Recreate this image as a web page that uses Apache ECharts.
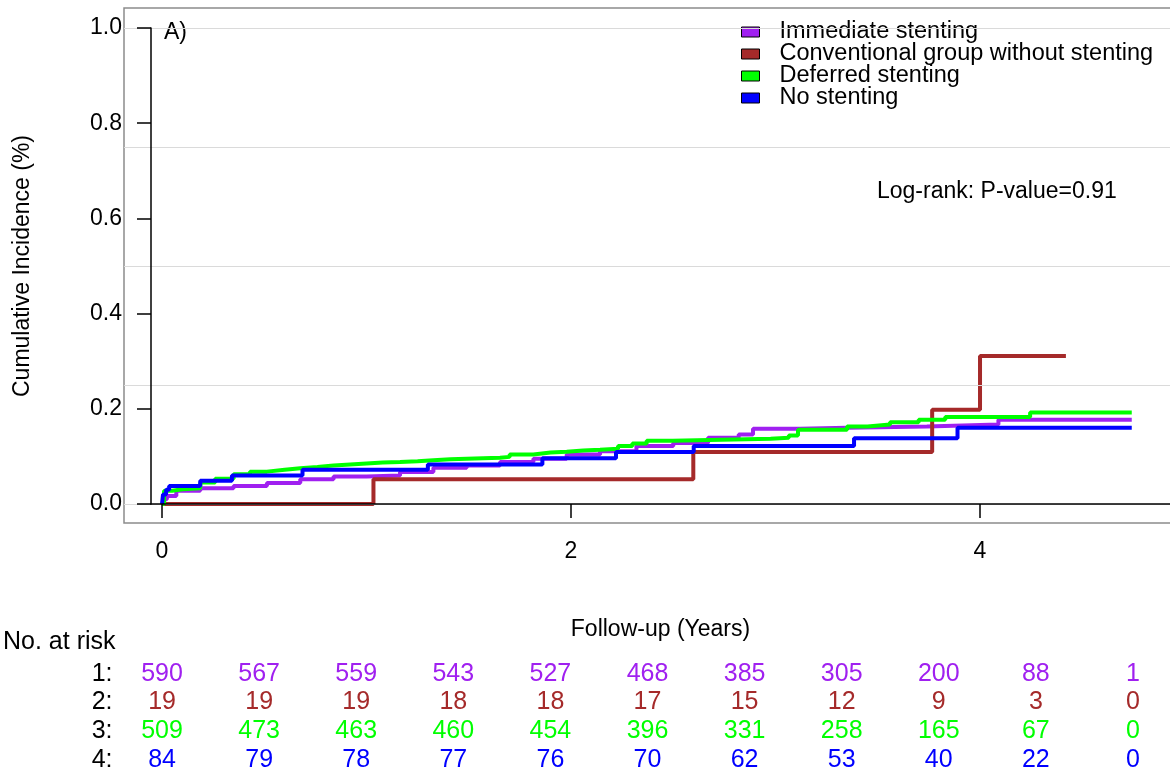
<!DOCTYPE html>
<html>
<head>
<meta charset="utf-8">
<script src="https://cdn.jsdelivr.net/npm/echarts@6/dist/echarts.min.js"></script>
<style>
  html, body { margin: 0; padding: 0; background: #fff; }
  #main { width: 1170px; height: 771px; }
</style>
</head>
<body>
<div id="main"></div>
<script>
// group names and colours
const groupNames = ['Immediate stenting', 'Conventional group without stenting', 'Deferred stenting', 'No stenting'];
const groupColors = ['#a020f0', '#a52a2a', '#00ff00', '#0000ff'];

// cumulative incidence step points (years, proportion)
const timeImmediate = [0, 0.01, 0.024, 0.07, 0.187, 0.35, 0.513, 0.676, 0.839, 1.0, 1.164, 1.327, 1.49, 1.653, 1.816, 1.979, 2.142, 2.32, 2.5, 2.67, 2.82, 2.89, 3.12, 3.35, 3.74, 4.09, 4.742];
const incImmediate = [0, 0.01, 0.017, 0.028, 0.033, 0.038, 0.044, 0.052, 0.058, 0.06, 0.067, 0.076, 0.081, 0.088, 0.095, 0.104, 0.111, 0.122, 0.128, 0.139, 0.146, 0.158, 0.16, 0.163, 0.167, 0.177, 0.177];

const timeConventional = [0, 1.034, 2.598, 3.766, 4.0, 4.42];
const incConventional = [0, 0.052, 0.109, 0.198, 0.311, 0.311];

const timeDeferred = [0, 0.01, 0.05, 0.1, 0.187, 0.26, 0.35, 0.43, 0.513, 0.6, 0.676, 0.76, 0.839, 0.92, 1.0, 1.08, 1.164, 1.25, 1.327, 1.41, 1.49, 1.57, 1.653, 1.7, 1.816, 1.9, 1.979, 2.06, 2.142, 2.23, 2.3, 2.37, 2.497, 2.976, 3.065, 3.11, 3.35, 3.45, 3.56, 3.7, 3.83, 4.245, 4.742];
const incDeferred = [0, 0.028, 0.031, 0.033, 0.045, 0.053, 0.0625, 0.068, 0.072, 0.075, 0.078, 0.081, 0.083, 0.085, 0.087, 0.088, 0.09, 0.092, 0.094, 0.095, 0.096, 0.097, 0.099, 0.104, 0.108, 0.11, 0.1125, 0.114, 0.116, 0.122, 0.127, 0.133, 0.137, 0.139, 0.144, 0.156, 0.163, 0.167, 0.172, 0.177, 0.183, 0.192, 0.192];

const timeNone = [0, 0.005, 0.02, 0.035, 0.187, 0.342, 0.687, 1.3, 1.86, 2.22, 2.6, 3.384, 3.89, 4.742];
const incNone = [0, 0.02, 0.03, 0.038, 0.049, 0.06, 0.072, 0.083, 0.096, 0.109, 0.122, 0.138, 0.16, 0.16];

// axes
const xTicks = [0, 2, 4];
const grayLevels = [0, 0.25, 0.5, 0.75, 1.0];

// number at risk table
const riskRowLabels = ['1:', '2:', '3:', '4:'];
const riskImmediate = [590, 567, 559, 543, 527, 468, 385, 305, 200, 88, 1];
const riskConventional = [19, 19, 19, 18, 18, 17, 15, 12, 9, 3, 0];
const riskDeferred = [509, 473, 463, 460, 454, 396, 331, 258, 165, 67, 0];
const riskNone = [84, 79, 78, 77, 76, 70, 62, 53, 40, 22, 0];

const FONT = 'Liberation Sans';

function zip(t, v) {
  return t.map((x, i) => [x, v[i]]);
}

const curves = [
  zip(timeImmediate, incImmediate),
  zip(timeConventional, incConventional),
  zip(timeDeferred, incDeferred),
  zip(timeNone, incNone)
];
const riskRows = [riskImmediate, riskConventional, riskDeferred, riskNone];

const chart = echarts.init(document.getElementById('main'));

const series = [];
// light gray reference lines inside the outer box
series.push({
  type: 'line',
  xAxisIndex: 0,
  yAxisIndex: 0,
  data: [[0, 0]],
  symbol: 'none',
  lineStyle: { opacity: 0 },
  silent: true,
  z: 0,
  markLine: {
    silent: true,
    symbol: 'none',
    label: { show: false },
    lineStyle: { color: '#dadada', width: 1.2, type: 'solid' },
    data: grayLevels.map(v => ({ yAxis: v }))
  }
});

curves.forEach((d, i) => {
  series.push({
    name: groupNames[i],
    type: 'line',
    xAxisIndex: 1,
    yAxisIndex: 1,
    step: 'end',
    symbol: 'none',
    clip: false,
    color: groupColors[i],
    lineStyle: { width: 4, color: groupColors[i] },
    data: d,
    z: 3 + i
  });
});

riskRows.forEach((row, r) => {
  series.push({
    type: 'scatter',
    xAxisIndex: 2,
    yAxisIndex: 2,
    symbolSize: 0,
    silent: true,
    itemStyle: { opacity: 1 },
    data: row.map((n, c) => [c, r, n]),
    label: {
      show: true,
      position: 'inside',
      formatter: p => String(p.value[2]),
      color: groupColors[r],
      opacity: 1,
      fontSize: 25,
      fontFamily: FONT
    }
  });
});

chart.setOption({
  animation: false,
  backgroundColor: '#fff',
  textStyle: { fontFamily: FONT },
  grid: [
    { left: 124, top: 8, width: 1070, height: 515, show: true, borderColor: '#8c8c8c', borderWidth: 1.5, outerBoundsMode: 'none' },
    { left: 151, top: 28, width: 1019, height: 476, outerBoundsMode: 'none' },
    { left: 113.5, top: 659.5, width: 1068, height: 114.7, outerBoundsMode: 'none' }
  ],
  xAxis: [
    { gridIndex: 0, type: 'value', min: 0, max: 1, show: false },
    {
      gridIndex: 1, type: 'value', min: -0.0538, max: 4.929, z: 10,
      name: 'Follow-up (Years)', nameLocation: 'middle', nameGap: 114,
      nameTextStyle: { fontSize: 23, color: '#000', fontFamily: FONT },
      axisLine: { show: true, onZero: false, lineStyle: { color: '#000', width: 1.5 } },
      axisTick: { show: true, length: 14, customValues: xTicks, lineStyle: { color: '#000', width: 1.5 } },
      axisLabel: { customValues: xTicks, margin: 36, fontSize: 23, color: '#000', fontFamily: FONT },
      splitLine: { show: false }
    },
    { gridIndex: 2, type: 'value', min: -0.5, max: 10.5, show: false }
  ],
  yAxis: [
    { gridIndex: 0, type: 'value', min: -0.0399, max: 1.042, show: false },
    {
      gridIndex: 1, type: 'value', min: 0, max: 1, interval: 0.2, z: 10,
      name: 'Cumulative Incidence (%)', nameLocation: 'middle', nameGap: 117,
      nameTextStyle: { fontSize: 23, color: '#000', fontFamily: FONT },
      axisLine: { show: true, onZero: false, lineStyle: { color: '#000', width: 1.5 } },
      axisTick: { show: true, length: 14, lineStyle: { color: '#000', width: 1.5 } },
      axisLabel: { margin: 29, fontSize: 23, color: '#000', fontFamily: FONT, formatter: v => v.toFixed(1) },
      splitLine: { show: false }
    },
    {
      gridIndex: 2, type: 'category', inverse: true, data: riskRowLabels,
      axisLine: { show: false }, axisTick: { show: false },
      axisLabel: { interval: 0, margin: 1, fontSize: 25, color: '#000', fontFamily: FONT }
    }
  ],
  legend: {
    data: groupNames,
    orient: 'vertical',
    left: 741,
    top: 20,
    padding: 0,
    icon: 'rect',
    itemWidth: 18,
    itemHeight: 10,
    itemGap: -2,
    itemStyle: { borderColor: '#000', borderWidth: 1 },
    textStyle: { fontSize: 23.5, color: '#000', fontFamily: FONT, lineHeight: 19.5, padding: [0, 0, 0, 15] },
    selectedMode: false
  },
  graphic: [
    { type: 'text', style: { x: 164, y: 33, text: 'A)', fontSize: 23, fontFamily: FONT, fill: '#000', verticalAlign: 'middle' } },
    { type: 'text', style: { x: 877, y: 192, text: 'Log-rank: P-value=0.91', fontSize: 23, fontFamily: FONT, fill: '#000', verticalAlign: 'middle' } },
    { type: 'text', style: { x: 3, y: 642, text: 'No. at risk', fontSize: 25, fontFamily: FONT, fill: '#000', verticalAlign: 'middle' } }
  ],
  series: series
});
</script>
</body>
</html>
